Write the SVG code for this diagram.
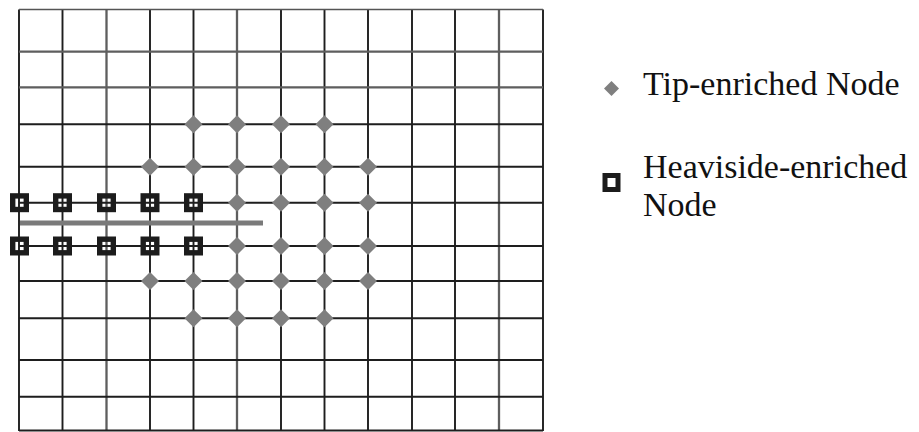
<svg xmlns="http://www.w3.org/2000/svg" xmlns:xlink="http://www.w3.org/1999/xlink" width="919" height="432" viewBox="0 0 919 432">
<style>
.gl{stroke:#1e1e1e;stroke-width:1.9;fill:none}
.gl2{stroke:#5e5e5e;stroke-width:2.3;fill:none}
.crack{stroke:#7a7a7a;stroke-width:5;fill:none}
.tip{fill:#7f7f7f}
.hv{fill:none;stroke:#1c1c1c;stroke-width:5.4}
.hvl{fill:#fff;stroke:#1c1c1c;stroke-width:5}
</style>
<defs>
<path id="dia" class="tip" d="M0,-9 L9,0 L0,9 L-9,0Z"/>
<rect id="sq" class="hv" x="-6.8" y="-6.8" width="13.6" height="13.6"/>
</defs>
<rect width="919" height="432" fill="#fff"/>
<g id="connectors">
<path class="gl" d="M19,9.5V431 M62.5,9.5V431 M150,9.5V431 M193.5,9.5V431 M281,9.5V431 M324.5,9.5V431 M368,9.5V431 M412,9.5V431 M455,9.5V431 M543,9.5V431"/>
<path class="gl2" d="M106.5,9.5V431 M237,9.5V431 M499,9.5V431"/>
<path class="gl" d="M19,124.3H543 M19,166.7H543 M19,202.7H543 M19,246H543 M19,281H543 M19,318.3H543 M19,360H543 M19,396.7H543 M19,430.5H543"/>
<path class="gl2" d="M19,51.7H543 M19,87.3H543"/>
<path stroke="#555" stroke-width="1.4" d="M19,9.5H543"/>
<path class="crack" d="M20,223H263"/>
</g>
<g id="t1"><use xlink:href="#dia" x="193.5" y="124.3"/></g>
<g id="t2"><use xlink:href="#dia" x="237" y="124.3"/></g>
<g id="t3"><use xlink:href="#dia" x="281" y="124.3"/></g>
<g id="t4"><use xlink:href="#dia" x="324.5" y="124.3"/></g>
<g id="t5"><use xlink:href="#dia" x="150" y="166.7"/></g>
<g id="t6"><use xlink:href="#dia" x="193.5" y="166.7"/></g>
<g id="t7"><use xlink:href="#dia" x="237" y="166.7"/></g>
<g id="t8"><use xlink:href="#dia" x="281" y="166.7"/></g>
<g id="t9"><use xlink:href="#dia" x="324.5" y="166.7"/></g>
<g id="t10"><use xlink:href="#dia" x="368" y="166.7"/></g>
<g id="t11"><use xlink:href="#dia" x="237" y="202.7"/></g>
<g id="t12"><use xlink:href="#dia" x="281" y="202.7"/></g>
<g id="t13"><use xlink:href="#dia" x="324.5" y="202.7"/></g>
<g id="t14"><use xlink:href="#dia" x="368" y="202.7"/></g>
<g id="t15"><use xlink:href="#dia" x="237" y="246"/></g>
<g id="t16"><use xlink:href="#dia" x="281" y="246"/></g>
<g id="t17"><use xlink:href="#dia" x="324.5" y="246"/></g>
<g id="t18"><use xlink:href="#dia" x="368" y="246"/></g>
<g id="t19"><use xlink:href="#dia" x="150" y="281"/></g>
<g id="t20"><use xlink:href="#dia" x="193.5" y="281"/></g>
<g id="t21"><use xlink:href="#dia" x="237" y="281"/></g>
<g id="t22"><use xlink:href="#dia" x="281" y="281"/></g>
<g id="t23"><use xlink:href="#dia" x="324.5" y="281"/></g>
<g id="t24"><use xlink:href="#dia" x="368" y="281"/></g>
<g id="t25"><use xlink:href="#dia" x="193.5" y="318.3"/></g>
<g id="t26"><use xlink:href="#dia" x="237" y="318.3"/></g>
<g id="t27"><use xlink:href="#dia" x="281" y="318.3"/></g>
<g id="t28"><use xlink:href="#dia" x="324.5" y="318.3"/></g>
<g id="h1"><use xlink:href="#sq" x="19.5" y="202.7"/></g>
<g id="h2"><use xlink:href="#sq" x="62.5" y="202.7"/></g>
<g id="h3"><use xlink:href="#sq" x="106.5" y="202.7"/></g>
<g id="h4"><use xlink:href="#sq" x="150" y="202.7"/></g>
<g id="h5"><use xlink:href="#sq" x="193.5" y="202.7"/></g>
<g id="h6"><use xlink:href="#sq" x="19.5" y="246"/></g>
<g id="h7"><use xlink:href="#sq" x="62.5" y="246"/></g>
<g id="h8"><use xlink:href="#sq" x="106.5" y="246"/></g>
<g id="h9"><use xlink:href="#sq" x="150" y="246"/></g>
<g id="h10"><use xlink:href="#sq" x="193.5" y="246"/></g>
<g id="legend" font-family="'Liberation Serif', 'Times New Roman', 'DejaVu Serif', serif" font-size="34" fill="#111">
<g id="legend-tip">
<path class="tip" d="M611.5,81 L619,88.5 L611.5,96 L604,88.5Z"/>
<text x="643" y="95">Tip-enriched Node</text>
</g>
<g id="legend-heaviside">
<rect class="hvl" x="605" y="175.5" width="13" height="14"/>
<text x="643" y="178">Heaviside-enriched</text>
<text x="643" y="216">Node</text>
</g>
</g>
</svg>
